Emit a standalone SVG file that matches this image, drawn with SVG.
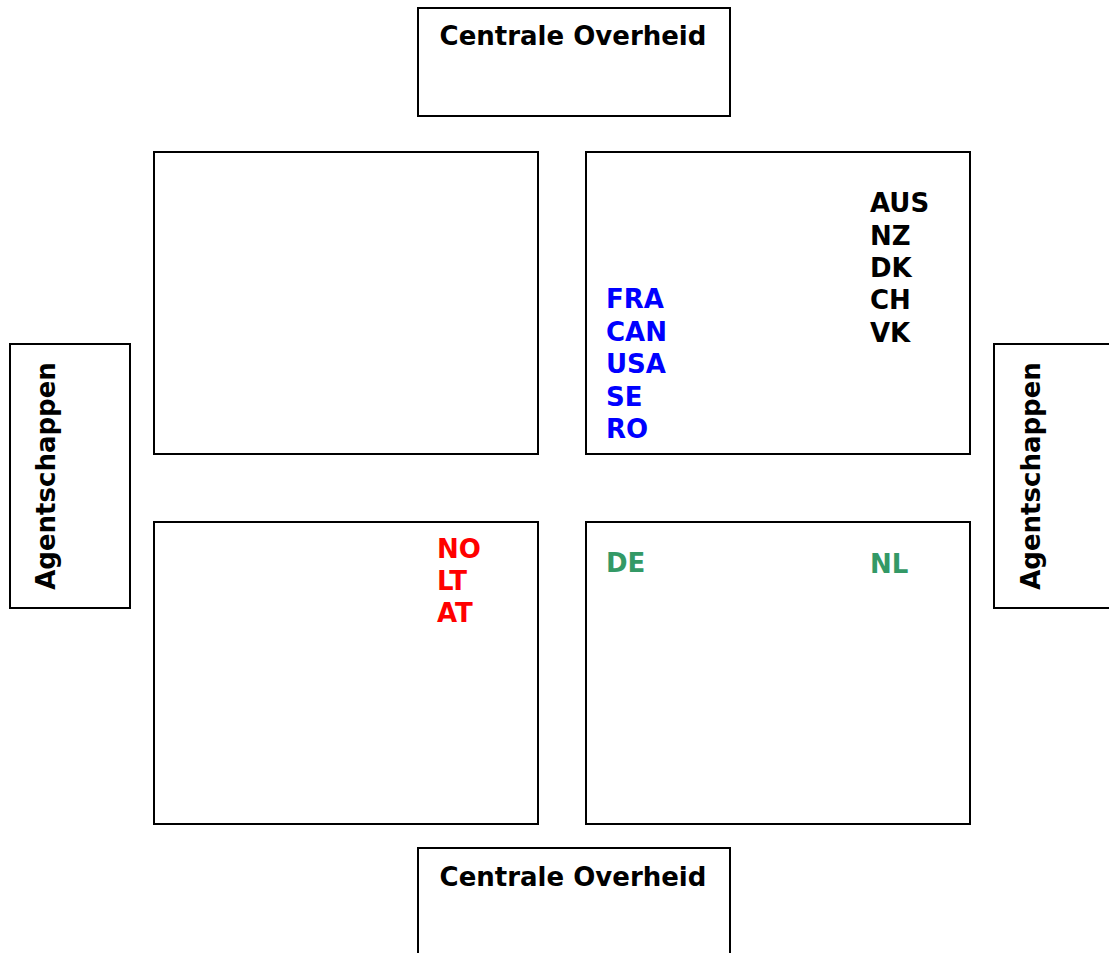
<svg xmlns="http://www.w3.org/2000/svg" width="1109" height="953" viewBox="0 0 1109 953">
<style>
.box{fill:#fff;stroke:#000;stroke-width:2}
text{font-family:"DejaVu Sans","Liberation Sans",sans-serif;font-weight:bold;font-size:26px}
.k{fill:#000}.b{fill:#0000ff}.r{fill:#ff0000}.g{fill:#339966}
</style>
<rect width="1109" height="953" fill="#fff"/>
<g id="top-central">
<rect class="box" x="418" y="8" width="312" height="108"/>
<text class="k" x="573" y="45" text-anchor="middle">Centrale Overheid</text>
</g>
<g id="bottom-central">
<rect class="box" x="418" y="848" width="312" height="120"/>
<text class="k" x="573" y="886" text-anchor="middle">Centrale Overheid</text>
</g>
<g id="left-agencies">
<rect class="box" x="10" y="344" width="120" height="264"/>
<text class="k" transform="translate(55,476) rotate(-90)" text-anchor="middle">Agentschappen</text>
</g>
<g id="right-agencies">
<rect class="box" x="994" y="344" width="130" height="264"/>
<text class="k" transform="translate(1040,476) rotate(-90)" text-anchor="middle">Agentschappen</text>
</g>
<g id="quad-tl">
<rect class="box" x="154" y="152" width="384" height="302"/>
</g>
<g id="quad-tr">
<rect class="box" x="586" y="152" width="384" height="302"/>
<text class="b" x="606">
<tspan x="606" y="308">FRA</tspan>
<tspan x="606" y="341">CAN</tspan>
<tspan x="606" y="373">USA</tspan>
<tspan x="606" y="406">SE</tspan>
<tspan x="606" y="438">RO</tspan>
</text>
<text class="k" x="870">
<tspan x="870" y="212">AUS</tspan>
<tspan x="870" y="245">NZ</tspan>
<tspan x="870" y="277">DK</tspan>
<tspan x="870" y="309">CH</tspan>
<tspan x="870" y="342">VK</tspan>
</text>
</g>
<g id="quad-bl">
<rect class="box" x="154" y="522" width="384" height="302"/>
<text class="r" x="437">
<tspan x="437" y="558">NO</tspan>
<tspan x="437" y="590">LT</tspan>
<tspan x="437" y="622">AT</tspan>
</text>
</g>
<g id="quad-br">
<rect class="box" x="586" y="522" width="384" height="302"/>
<text class="g" x="606" y="572">DE</text>
<text class="g" x="870" y="573">NL</text>
</g>
<g id="connectors"></g>
</svg>
